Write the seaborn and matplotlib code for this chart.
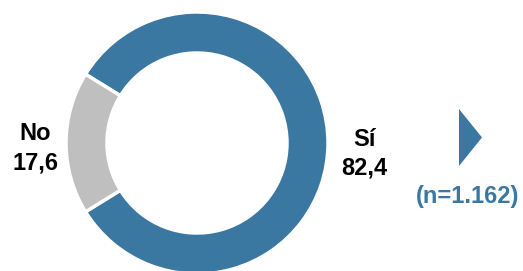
import matplotlib
matplotlib.use("Agg")
import matplotlib.pyplot as plt
import seaborn as sns

# data
categories = ["Sí", "No"]
values = [82.4, 17.6]
value_labels = ["82,4", "17,6"]
n_label = "(n=1.162)"

blue = "#3A77A1"
grey = "#BFBFBF"

sns.set_theme(style="white")
plt.rcParams['font.family'] = ['Liberation Sans', 'DejaVu Sans']

fig = plt.figure(figsize=(5.23, 2.71), dpi=100)
ax = fig.add_axes([0, 0, 1, 1])

# donut, "No" wedge centred on the left side
start = 180 + values[1] * 3.6 / 2
ax.pie(values, colors=[blue, grey], startangle=start, counterclock=True,
       center=(197, 128), radius=131, frame=True,
       wedgeprops=dict(width=41, edgecolor="white", linewidth=2.5))
ax.set_xlim(0, 523)
ax.set_ylim(0, 271)
ax.set_aspect("equal")
ax.axis("off")

# labels
fs = 17
ax.text(364, 131, categories[0], ha="center", va="center", fontsize=fs, fontweight="bold", color="black")
ax.text(364, 103, value_labels[0], ha="center", va="center", fontsize=fs, fontweight="bold", color="black")
ax.text(35, 138, categories[1], ha="center", va="center", fontsize=fs, fontweight="bold", color="black")
ax.text(35, 108, value_labels[1], ha="center", va="center", fontsize=fs, fontweight="bold", color="black")

# arrow marker and sample size
ax.fill([459, 482, 459], [162, 133.5, 105], color=blue, lw=0)
ax.text(468, 74, n_label, ha="center", va="center", fontsize=fs, fontweight="bold", color=blue)

fig.savefig("out.png", dpi=100, facecolor="white")
